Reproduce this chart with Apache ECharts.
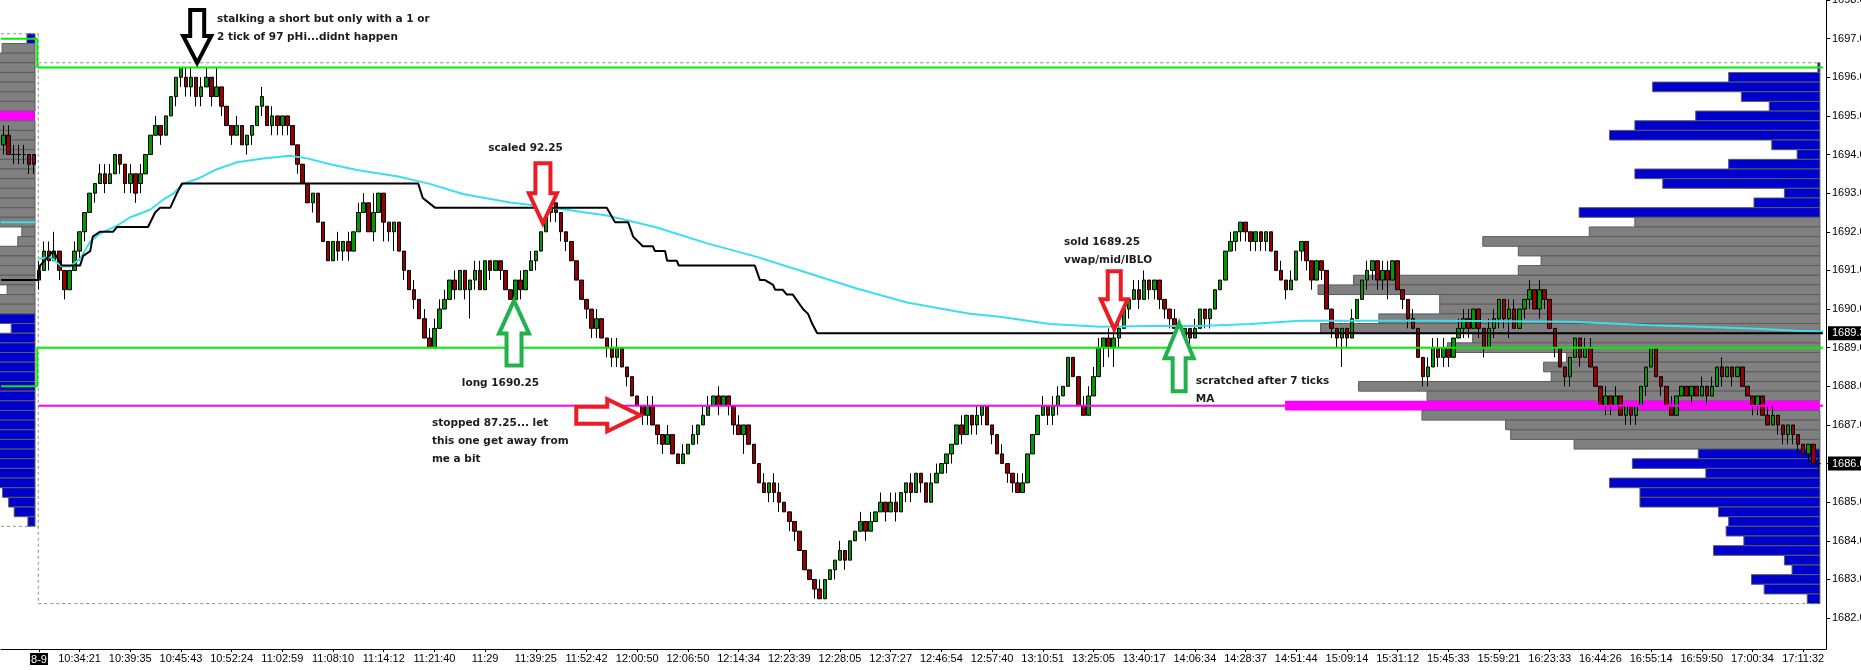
<!DOCTYPE html>
<html>
<head>
<meta charset="utf-8">
<title>ES 8-9 profile</title>
<script src="https://cdn.jsdelivr.net/npm/echarts@6/dist/echarts.min.js"></script>
<style>
  html, body { margin: 0; padding: 0; background: #fff; }
  #chart { width: 1861px; height: 670px; }
</style>
</head>
<body>
<div id="chart"></div>
<script>
// prices are stored in ticks above BASE (1 tick = 0.25)
const BASE = 1680, TICK = 0.25;

// previous session, last bars  [open, close, low, high]
const prevBars = [
  [57,58,56,59],[58,56,56,59],[56,56,55,57],[56,56,55,57],[56,56,55,57],[56,55,54,56],[56,55,54,56]
];

// today  [open, close, low, high]
const todayBars = [
  [43,44,42,45],[44,46,44,47],[46,45,44,47],[45,46,45,48],[46,44,43,46],[44,42,41,44],[42,44,42,44],[44,46,44,47],[46,48,45,48],[48,50,47,50],
  [50,52,50,52],[52,53,51,53],[53,54,53,55],[54,53,52,55],[53,54,53,55],[54,56,54,56],[56,55,54,56],[55,53,52,55],[53,54,52,55],[54,52,51,54],
  [53,54,52,55],[54,56,54,56],[56,58,56,58],[58,59,58,60],[59,58,57,59],[58,60,58,60],[60,62,60,62],[62,64,61,64],[64,65,63,65],[64,63,62,65],
  [63,64,62,65],[64,62,61,64],[62,63,61,64],[63,64,63,65],[64,62,61,64],[62,63,62,65],[63,61,60,63],[61,59,59,61],[59,58,57,59],[58,59,58,60],
  [59,57,57,59],[57,58,56,58],[58,59,57,59],[59,61,59,61],[61,62,60,63],[61,59,59,61],[59,60,58,61],[60,59,58,60],[59,60,58,60],[60,59,58,60],
  [59,57,57,59],[57,55,54,57],[55,53,53,55],[53,51,51,53],[51,52,50,52],[52,49,49,52],[49,47,47,49],[47,45,45,47],[45,47,45,47],[47,46,45,48],
  [46,47,45,47],[47,46,45,48],[46,48,46,48],[48,50,48,51],[50,51,50,52],[51,48,48,51],[48,50,47,52],[50,52,50,52],[52,49,47,52],[49,48,47,49],
  [48,49,46,49],[49,46,46,49],[46,44,43,46],[44,42,42,44],[42,41,40,43],[41,39,39,41],[39,37,37,40],[37,36,36,38],[36,38,36,39],[38,40,38,41],
  [40,41,40,42],[41,43,41,43],[43,42,41,44],[42,44,42,44],[44,42,41,44],[42,43,39,43],[43,44,42,45],[44,42,42,45],[42,45,42,45],[45,44,43,45],
  [44,45,44,45],[45,44,43,45],[44,42,42,44],[42,41,41,42],[41,43,41,43],[43,42,41,44],[42,44,42,44],[44,45,44,46],[45,46,44,46],[46,48,46,48],
  [48,50,48,50],[50,51,49,51],[51,50,49,51],[50,48,47,50],[48,47,46,48],[47,45,45,47],[45,43,43,45],[43,41,41,43],[41,40,39,41],[40,38,37,40],
  [38,39,37,40],[39,37,37,39],[37,36,35,37],[36,35,34,37],[35,36,34,37],[36,34,34,36],[34,33,32,34],[33,31,31,33],[31,30,30,31],[30,29,28,30],
  [29,30,28,31],[30,28,28,31],[28,27,26,28],[27,26,25,27],[26,27,26,28],[27,25,25,27],[25,24,24,25],[24,25,24,26],[25,26,25,26],[26,27,26,28],
  [27,28,26,28],[28,29,28,30],[29,30,29,31],[30,31,30,31],[31,30,29,32],[30,31,30,31],[31,30,29,31],[30,28,27,30],[28,27,27,29],[27,28,25,28],
  [28,26,26,28],[26,24,24,26],[24,22,22,24],[22,21,21,23],[21,22,20,22],[22,21,20,23],[21,20,19,22],[20,19,19,20],[19,18,17,19],[18,17,16,18],
  [17,15,15,17],[15,13,13,15],[13,12,12,13],[12,11,10,12],[11,10,10,12],[10,12,10,12],[12,13,12,13],[13,14,12,14],[14,15,14,16],[15,14,13,15],
  [14,16,14,16],[16,17,16,17],[17,18,17,19],[18,17,16,18],[17,18,17,19],[18,19,18,19],[19,20,19,21],[20,19,18,20],[19,20,19,21],[20,19,18,21],
  [19,21,19,21],[21,22,20,22],[22,21,20,23],[21,23,21,23],[23,22,21,23],[22,20,20,22],[20,22,20,23],[22,23,22,24],[23,24,23,24],[24,25,23,25],
  [25,26,24,26],[26,28,26,28],[28,27,26,29],[27,29,27,29],[29,28,27,29],[28,29,27,30],[29,30,28,30],[30,28,28,30],[28,27,26,28],[27,25,25,27],
  [25,24,24,26],[24,23,22,24],[23,22,21,23],[22,21,21,23],[21,22,21,23],[22,25,22,25],[25,27,25,27],[27,29,27,29],[29,30,29,31],[30,29,28,30],
  [29,30,28,31],[30,31,29,32],[31,32,31,32],[32,35,32,35],[35,33,33,35],[33,30,30,33],[30,29,29,31],[29,31,29,32],[31,33,31,34],[33,36,33,37],
  [36,37,34,37],[37,36,35,38],[36,37,34,38],[37,38,36,39],[38,40,38,40],[40,41,39,41],[41,42,41,43],[42,41,40,43],[41,43,41,44],[43,42,41,43],
  [42,43,41,43],[43,41,40,43],[41,40,39,41],[40,39,38,40],[39,38,38,40],[38,37,36,38],[37,38,36,38],[38,37,36,38],[37,38,37,39],[38,40,38,40],
  [40,39,38,40],[39,40,38,40],[40,42,40,42],[42,43,42,43],[43,46,43,46],[46,47,46,48],[47,48,46,48],[48,49,47,49],[49,48,47,49],[48,47,46,48],
  [47,48,46,48],[48,47,46,48],[47,48,46,48],[48,46,46,48],[46,44,44,46],[44,43,43,45],[43,42,41,43],[42,43,42,44],[43,46,43,46],[46,47,45,47],
  [47,45,44,47],[45,43,42,45],[43,45,43,45],[45,44,43,45],[44,40,40,44],[40,38,37,40],[38,37,36,38],[37,38,34,38],[38,37,36,38],[37,39,37,40],
  [39,41,39,41],[41,43,41,43],[43,44,42,45],[44,45,43,45],[45,43,42,45],[43,44,42,45],[44,43,41,45],[43,45,43,45],[45,42,42,45],[42,41,40,42],
  [41,39,38,41],[39,38,38,40],[38,35,35,38],[35,33,32,35],[33,34,32,35],[34,36,34,37],[36,35,34,37],[35,36,34,37],[36,35,34,36],[35,37,35,37],
  [37,38,37,39],[38,39,37,40],[39,38,37,40],[38,40,38,40],[40,38,37,40],[38,36,35,38],[36,38,36,39],[38,39,37,40],[39,41,38,41],[41,39,38,41],
  [39,40,37,41],[40,38,38,41],[38,40,38,40],[40,41,39,41],[41,42,40,43],[42,40,40,42],[40,42,39,43],[42,41,40,42],[41,38,38,41],[38,36,35,38],
  [36,34,34,36],[34,33,32,34],[33,35,32,35],[35,37,35,37],[37,35,34,37],[35,36,35,37],[36,34,34,37],[34,32,32,34],[32,30,30,32],[30,31,29,32],
  [31,30,29,31],[30,31,30,32],[31,29,29,31],[29,30,28,30],[30,29,28,30],[29,30,28,30],[30,32,30,32],[32,34,31,34],[34,36,34,36],[36,33,33,36],
  [33,32,31,33],[32,30,30,32],[30,29,29,31],[29,31,29,31],[31,32,31,32],[32,31,31,32],[31,32,30,32],[32,31,31,32],[31,32,31,33],[32,31,30,32],
  [31,32,31,33],[32,34,32,34],[34,33,32,35],[33,34,33,34],[34,33,32,34],[33,34,33,34],[34,32,32,34],[32,31,31,32],[31,30,29,31],[30,31,29,31],
  [31,29,29,31],[29,28,28,30],[28,29,28,30],[29,28,27,29],[28,27,26,28],[27,28,26,28],[28,27,26,28],[27,26,25,27],[26,25,25,26],[25,26,24,26],
  [26,24,24,26],[24,24,23,25]
];

// time axis: date at first bar, then a time every 10 bars from bar 8
const sessionDate = '8-9';
const timeLabels = [
  '10:34:21','10:39:35','10:45:43','10:52:24','11:02:59','11:08:10','11:14:12','11:21:40','11:29','11:39:25',
  '11:52:42','12:00:50','12:06:50','12:14:34','12:23:39','12:28:05','12:37:27','12:46:54','12:57:40','13:10:51',
  '13:25:05','13:40:17','14:06:34','14:28:37','14:51:44','15:09:14','15:31:12','15:45:33','15:59:21','16:23:33',
  '16:44:26','16:55:14','16:59:50','17:00:34','17:11:32'
];
const LABEL_FIRST = 8, LABEL_STEP = 10;
const yTicks = [1682,1683,1684,1685,1686,1687,1688,1689,1690,1691,1692,1693,1694,1695,1696,1697,1698];

// market profile rows, 0.25 apart, widths in bar slots
const todayProfileTop = 1696.25;
const todayProfile = [
  0.4,18,33,15.5,10,24.5,36.5,41.5,9.5,4.5,18,36.5,31,7,13,47.5,
  36.5,45.5,66.5,59.5,55,59.5,92,99,75,75,87,98.5,68.5,73.5,50,54.5,53,91,77.5,105.5,78.5,62,61,48.5,
  24,37,22.5,41.5,35.5,35.5,20,18,18.5,15,21,7,5.5,13.5,11,2.5
];
const todayVAH = 1692.25, todayVAL = 1686.5, todayPOC = 1687.5;

const prevProfileTop = 1697.0;
const prevProfile = [
  1.6,6.5,8,8,8,8,8,8,8,8,8,8,8,8,8,8,8,8,8,8,2.6,3.4,8,8,8,8,5.5,8,8,
  8,4.7,8,8,8,8,8,8,8,8,8,8,8,8,8,8,8,8,6.4,5.2,4.1,1.4
];
const prevVAH = 1696.75, prevVAL = 1690.0, prevPOC = 1695.0;

const SESSION_START = -0.15;   // bar-slot position of the session divider
const TODAY_PROFILE_RIGHT = 351.3;
const PREV_PROFILE_RIGHT = -0.79;
const LINE_END = 351.9;

// levels
const ibHighPrev = 1697.0, ibHigh = 1696.25;
const ibLowPrev = 1688.0, ibLow = 1689.0;
const prevMA = 1692.25, prevMid = 1690.75;

// running range mid (black), [bar, price]
const midLine = [
  [-7.5,1690.75],[-0.15,1690.75],[0.2,1691.125],[2.8,1691.5],[4.5,1691.125],[8.1,1691.125],[8.7,1691.375],[10.1,1691.5],
  [10.6,1691.875],[12,1692],[14.6,1692],[15.4,1692.125],[21.5,1692.125],[22.9,1692.5],[23.9,1692.625],[25.9,1692.625],
  [27.2,1693],[28.2,1693.25],[74.8,1693.25],[75.7,1692.875],[78.1,1692.625],[112,1692.625],[113.6,1692.25],[116.2,1692.25],
  [117.2,1691.875],[119.1,1691.625],[121.1,1691.625],[121.5,1691.5],[123.5,1691.5],[123.9,1691.25],[125.8,1691.25],
  [126.2,1691.125],[141.2,1691.125],[142.2,1690.75],[143.2,1690.75],[144.8,1690.625],[145.2,1690.5],[146.7,1690.5],
  [147.5,1690.375],[148.7,1690.375],[150.7,1690],[151.7,1689.875],[152.5,1689.625],[153.5,1689.375],[351.9,1689.375]
];

// moving average (cyan), [bar, price]
const maLine = [
  [-0.2,1691.3],[2.2,1691.35],[4.5,1691.1],[6.1,1691.1],[8.1,1691.3],[10.1,1691.75],[12,1691.95],[15.4,1692.16],
  [17.9,1692.37],[21.9,1692.57],[24.5,1692.83],[26.4,1692.98],[28.4,1693.24],[31.8,1693.4],[35.1,1693.62],[39.1,1693.8],
  [44.2,1693.9],[49.5,1693.97],[52.9,1693.9],[57.4,1693.75],[62.7,1693.6],[70.6,1693.44],[77.1,1693.24],[83.6,1692.98],
  [92.9,1692.76],[98.8,1692.67],[112,1692.42],[121.9,1692.11],[131.8,1691.7],[141.6,1691.35],[151.5,1690.94],
  [161.3,1690.53],[171.2,1690.17],[183.6,1689.88],[189.5,1689.8],[199.4,1689.61],[209.3,1689.54],[219.1,1689.56],
  [229,1689.56],[238.9,1689.61],[248.7,1689.7],[275.7,1689.7],[302.6,1689.67],[317.8,1689.58],[327.6,1689.54],
  [338.8,1689.49],[346.7,1689.44],[351.9,1689.42]
];

// trade notes
const arrowTips = [[31.2,1696.37],[99.4,1692.22],[93.7,1690.22],[118.6,1687.25],[212.1,1689.48],[224.9,1689.63]];
const arrowDirs = ['down','down','up','right','down','up'];
const arrowColors = ['#000000','#ED1C24','#22B14C','#ED1C24','#ED1C24','#22B14C'];
const arrowSizes = [[53,27,14,7],[60,30,14,7.5],[65,33,15,7.5],[64,33,16,8.5],[58,30,13.5,6.5],[68,35,14.5,6.5]]; // length, head, head half-width, shaft half-width (px)

const noteTexts = [
  'stalking a short but only with a 1 or\n2 tick of 97 pHi...didnt happen',
  'scaled 92.25',
  'long 1690.25',
  'stopped 87.25... let\nthis one get away from\nme a bit',
  'sold 1689.25\nvwap/mid/IBLO',
  'scratched after 7 ticks\nMA'
];
const noteAnchors = [[35.1,1697.74],[88.6,1694.40],[83.4,1688.30],[77.5,1687.28],[202.2,1691.97],[228.2,1688.37]];

const priceTags = [[1689.375,'1689.38'],[1686.0,'1686.00']];

// ---------- build ----------
const px = t => BASE + t * TICK;
const allBars = prevBars.concat(todayBars);
const candleData = allBars.map(b => b.map(px));
const nPrev = prevBars.length;
const nSlots = allBars.length + 1;

function labelFor(bar) {
  if (bar === 0) return sessionDate;
  if (bar >= LABEL_FIRST && (bar - LABEL_FIRST) % LABEL_STEP === 0) {
    return timeLabels[(bar - LABEL_FIRST) / LABEL_STEP] || '';
  }
  return '';
}
const categories = [];
for (let k = 0; k < nSlots; k++) categories.push(String(k - nPrev));
const showLabel = (i) => labelFor(i - nPrev) !== '';

function profileRows(top, widths, right, vah, val, poc) {
  return widths.map((w, i) => {
    const p = top - i * 0.25;
    const kind = p === poc ? 2 : (p <= vah && p >= val ? 1 : 0);
    return [right, p, w, kind];
  });
}
const profileData = profileRows(todayProfileTop, todayProfile, TODAY_PROFILE_RIGHT, todayVAH, todayVAL, todayPOC)
  .concat(profileRows(prevProfileTop, prevProfile, PREV_PROFILE_RIGHT, prevVAH, prevVAL, prevPOC));
const PROFILE_FILL = ['#0000CC', '#808080', '#FF00FF'];

function line(data, color, width, type, z) {
  return {
    type: 'line', xAxisIndex: 1, yAxisIndex: 0, data: data,
    symbol: 'none', showSymbol: false, silent: true, animation: false,
    lineStyle: { color: color, width: width, type: type || 'solid', cap: 'butt' },
    z: z || 4
  };
}

const todayHi = todayProfileTop + 0.125;
const todayLo = todayProfileTop - (todayProfile.length - 1) * 0.25 - 0.125;
const prevHi = prevProfileTop + 0.125;
const prevLo = prevProfileTop - (prevProfile.length - 1) * 0.25 - 0.125;
const DASH = [3, 3];

const chart = echarts.init(document.getElementById('chart'), null, { renderer: 'canvas' });
chart.setOption({
  animation: false,
  backgroundColor: '#ffffff',
  grid: { left: 1, right: 35, top: 0, bottom: 21, containLabel: false, outerBoundsMode: 'none' },
  xAxis: [
    {
      type: 'category', data: categories, boundaryGap: true, position: 'bottom',
      axisLine: { show: true, onZero: false, lineStyle: { color: '#000', width: 1 } },
      axisTick: { show: true, interval: showLabel, alignWithLabel: true, length: 3, lineStyle: { color: '#000' } },
      axisLabel: {
        interval: showLabel, margin: 4, color: '#000', fontFamily: 'Liberation Sans', fontSize: 11,
        formatter: (v) => { const t = labelFor(parseInt(v, 10)); return t === sessionDate ? '{d|' + t + '}' : t; },
        rich: { d: { backgroundColor: '#000', color: '#fff', fontFamily: 'Liberation Sans', fontSize: 11, padding: [1, 1, 0, 1] } }
      },
      splitLine: { show: false }
    },
    { type: 'value', min: -nPrev - 0.5, max: nSlots - nPrev - 0.5, show: false, axisLine: { onZero: false } }
  ],
  yAxis: {
    type: 'value', position: 'right', min: 1681.2, max: 1698, scale: true,
    axisLine: { show: true, onZero: false, lineStyle: { color: '#000', width: 1 } },
    axisTick: { show: true, length: 4, customValues: yTicks, lineStyle: { color: '#000' } },
    axisLabel: { customValues: yTicks, margin: 6, color: '#000', fontFamily: 'Liberation Sans', fontSize: 11,
      formatter: (v) => v.toFixed(2) },
    splitLine: { show: false }
  },
  series: [
    {
      type: 'custom', name: 'profile', xAxisIndex: 1, yAxisIndex: 0, data: profileData, z: 1, silent: true,
      renderItem: (params, api) => {
        const right = api.value(0), p = api.value(1), w = api.value(2), kind = api.value(3);
        const a = api.coord([right - w, p + 0.125]);
        const b = api.coord([right, p - 0.125]);
        return {
          type: 'rect',
          shape: { x: a[0], y: a[1], width: b[0] - a[0], height: b[1] - a[1] },
          style: { fill: PROFILE_FILL[kind], stroke: kind === 2 ? null : '#5c5c5c', lineWidth: 1 }
        };
      }
    },
    line([[SESSION_START, todayHi], [TODAY_PROFILE_RIGHT, todayHi]], '#8c8c8c', 1, DASH, 2),
    line([[SESSION_START, todayLo], [TODAY_PROFILE_RIGHT, todayLo]], '#8c8c8c', 1, DASH, 2),
    line([[SESSION_START, prevHi], [SESSION_START, todayLo]], '#8c8c8c', 1, DASH, 2),
    line([[-nPrev - 0.5, prevHi], [SESSION_START, prevHi]], '#8c8c8c', 1, DASH, 2),
    line([[-nPrev - 0.5, prevLo], [SESSION_START, prevLo]], '#8c8c8c', 1, DASH, 2),
    {
      type: 'candlestick', xAxisIndex: 0, yAxisIndex: 0, data: candleData, barWidth: 4, z: 3, silent: true,
      itemStyle: { color: '#009a00', color0: '#960000', borderColor: '#000', borderColor0: '#000', borderWidth: 1 }
    },
    line([[SESSION_START, todayPOC], [LINE_END, todayPOC]], '#FF00FF', 2),
    line([[-nPrev - 0.5, ibHighPrev], [SESSION_START - 0.2, ibHighPrev], [SESSION_START - 0.2, ibHigh], [LINE_END, ibHigh]], '#00F000', 2),
    line([[-nPrev - 0.5, ibLowPrev], [SESSION_START - 0.2, ibLowPrev], [SESSION_START - 0.2, ibLow], [LINE_END, ibLow]], '#00F000', 2),
    line([[-nPrev - 0.5, prevMA], [-0.6, prevMA]], '#3ADFEE', 2),
    line(maLine, '#3ADFEE', 2),
    line(midLine, '#000000', 2),
    {
      type: 'custom', name: 'arrows', xAxisIndex: 1, yAxisIndex: 0, z: 10, silent: true,
      data: arrowTips.map((t, i) => [t[0], t[1], i]),
      renderItem: (params, api) => {
        const i = api.value(2);
        const c = api.coord([api.value(0), api.value(1)]);
        const x = c[0], y = c[1];
        const [L, H, hw, sw] = arrowSizes[i];
        let pts;
        if (arrowDirs[i] === 'down') {
          pts = [[x, y], [x - hw, y - H], [x - sw, y - H], [x - sw, y - L], [x + sw, y - L], [x + sw, y - H], [x + hw, y - H]];
        } else if (arrowDirs[i] === 'up') {
          pts = [[x, y], [x - hw, y + H], [x - sw, y + H], [x - sw, y + L], [x + sw, y + L], [x + sw, y + H], [x + hw, y + H]];
        } else {
          pts = [[x, y], [x - H, y - hw], [x - H, y - sw], [x - L, y - sw], [x - L, y + sw], [x - H, y + sw], [x - H, y + hw]];
        }
        return {
          type: 'polygon', shape: { points: pts },
          style: { fill: '#ffffff', stroke: arrowColors[i], lineWidth: 4, lineJoin: 'miter' }
        };
      }
    },
    {
      type: 'custom', name: 'notes', xAxisIndex: 1, yAxisIndex: 0, z: 11, silent: true,
      data: noteAnchors.map((a, i) => [a[0], a[1], i]),
      renderItem: (params, api) => {
        const c = api.coord([api.value(0), api.value(1)]);
        return {
          type: 'text',
          style: {
            text: noteTexts[api.value(2)], x: c[0], y: c[1], fill: '#1c1c1c',
            fontFamily: 'DejaVu Sans', fontWeight: 'bold', fontSize: 10.5, lineHeight: 18,
            verticalAlign: 'top', align: 'left'
          }
        };
      }
    },
    {
      type: 'custom', name: 'tags', xAxisIndex: 1, yAxisIndex: 0, z: 12, silent: true,
      data: priceTags.map((t, i) => [nSlots - nPrev - 0.5, t[0], i]),
      renderItem: (params, api) => {
        const c = api.coord([api.value(0), api.value(1)]);
        const txt = priceTags[api.value(2)][1];
        return {
          type: 'group',
          children: [
            { type: 'rect', shape: { x: c[0] + 2, y: c[1] - 7, width: 60, height: 14 }, style: { fill: '#000' } },
            { type: 'text', style: { text: txt, x: c[0] + 6, y: c[1], fill: '#fff', fontFamily: 'Liberation Sans', fontSize: 11, verticalAlign: 'middle', align: 'left' } }
          ]
        };
      }
    }
  ]
});
</script>
</body>
</html>
